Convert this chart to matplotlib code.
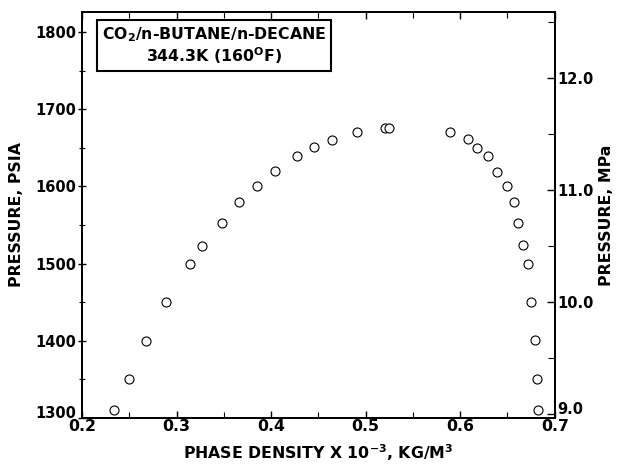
import numpy as np
import matplotlib
matplotlib.use("Agg")
import matplotlib.pyplot as plt
import matplotlib.transforms as mtransforms
from matplotlib.ticker import MultipleLocator

# phase density x 1e-3 (kg/m3) and pressure (psia)
density = [0.234, 0.250, 0.268, 0.289, 0.314, 0.327, 0.348, 0.366, 0.385, 0.404,
           0.427, 0.445, 0.464, 0.491, 0.520, 0.525,
           0.589, 0.608, 0.618, 0.629, 0.639, 0.649, 0.657, 0.661, 0.666,
           0.672, 0.675, 0.679, 0.681, 0.682]
pressure = [1310, 1351, 1400, 1450, 1500, 1523, 1552, 1580, 1601, 1620,
            1640, 1651, 1660, 1670, 1676, 1676,
            1670, 1661, 1650, 1640, 1619, 1600, 1580, 1553, 1524,
            1500, 1450, 1401, 1350, 1310]

PSI_PER_MPA = 145.038
FS = 11.3
TICK_FS = 10.5

plt.rcParams['font.family'] = ['DejaVu Sans']
plt.rcParams['font.weight'] = 'bold'

fig = plt.figure(figsize=(6.24, 4.68), dpi=100)
ax = fig.add_axes([0.1314, 0.1068, 0.7576, 0.8676])

ax.plot(density, pressure, 'o', mfc='white', mec='black', ms=6.5, mew=0.8)

ax.set_xlim(0.2, 0.7)
ax.set_ylim(1300, 1826)
ax.xaxis.set_major_locator(MultipleLocator(0.1))
ax.xaxis.set_minor_locator(MultipleLocator(0.05))
ax.yaxis.set_major_locator(MultipleLocator(100))
ax.yaxis.set_minor_locator(MultipleLocator(50))
ax.tick_params(axis='x', which='both', direction='in', top=True, labelsize=FS, pad=1)
ax.tick_params(axis='x', which='major', length=5, width=1)
ax.tick_params(axis='x', which='minor', length=4, width=0.8)
ax.tick_params(axis='y', which='both', direction='inout', labelsize=TICK_FS, pad=1)
ax.tick_params(axis='y', which='major', length=6, width=1)
ax.tick_params(axis='y', which='minor', length=5, width=0.8)
ax.xaxis.set_major_formatter(plt.FuncFormatter(lambda v, p: f"{v:.1f}"))
for s in ax.spines.values():
    s.set_linewidth(1.3)

ax2 = ax.twinx()
ax2.set_ylim(1300 / PSI_PER_MPA, 1826 / PSI_PER_MPA)
ax2.yaxis.set_major_locator(MultipleLocator(1.0))
ax2.yaxis.set_minor_locator(MultipleLocator(0.5))
ax2.tick_params(axis='y', which='both', direction='in', labelsize=TICK_FS, pad=2)
ax2.tick_params(axis='y', which='major', length=6, width=1)
ax2.tick_params(axis='y', which='minor', length=5, width=0.8)
ax2.yaxis.set_major_formatter(plt.FuncFormatter(lambda v, p: f"{v:.1f}"))
for s in ax2.spines.values():
    s.set_linewidth(1.3)

# lift the bottom labels a little so they clear the x tick labels, as in the original
fig.canvas.draw()
lift = mtransforms.ScaledTranslation(0, 4 / 72, fig.dpi_scale_trans)
for t in ax.yaxis.get_major_ticks():
    if abs(t.get_loc() - 1300) < 1:
        t.label1.set_transform(t.label1.get_transform() + lift)
for t in ax2.yaxis.get_major_ticks():
    if abs(t.get_loc() - 9.0) < 0.01:
        t.label2.set_transform(t.label2.get_transform() + lift)

ax.set_xlabel("PHASE DENSITY X 10$^{\\mathbf{-3}}$, KG/M$^{\\mathbf{3}}$",
              fontsize=FS, fontweight='bold', labelpad=6)
ax.set_ylabel("PRESSURE, PSIA", fontsize=FS, fontweight='bold', labelpad=8)
ax2.set_ylabel("PRESSURE, MPa", fontsize=FS, fontweight='bold', labelpad=4)

ax.text(0.280, 0.917, "CO$_{\\mathbf{2}}$/n-BUTANE/n-DECANE\n344.3K (160$^{\\mathbf{O}}$F)",
        transform=ax.transAxes, ha='center', va='center', fontsize=FS,
        fontweight='bold', linespacing=1.1,
        bbox=dict(boxstyle='square,pad=0.3', fc='white', ec='black', lw=1.5))

fig.savefig("out.png", dpi=100)
